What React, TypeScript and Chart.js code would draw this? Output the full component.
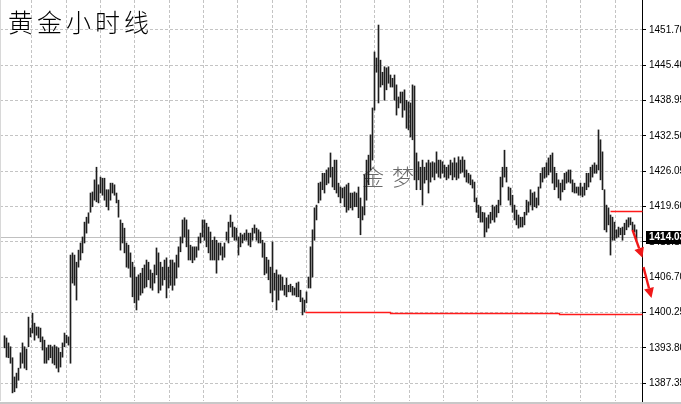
import React, { useEffect, useRef } from "react";
import { Chart, registerables } from "chart.js";

Chart.register(...registerables);

// ---------- text ----------
const chartTitle = ["黄", "金", "小", "时", "线"];
const watermarkChars = ["金", "梦"];
const currentPriceLabel = "1414.03";

// ---------- price axis ----------
const yTickLabels = ["1387.35", "1393.80", "1400.25", "1406.70", "1413.15", "1419.60", "1426.05", "1432.50", "1438.95", "1445.40", "1451.70"];
const yTickStart = 1387.35;
const yTickStep = 6.435;
const yMin = 1384.12;
const yMax = 1457.16;

// ---------- hourly bars (high / low) ----------
const barHighs = [
  1396.0, 1395.6, 1394.7, 1394.0, 1392.0, 1388.5, 1389.2, 1390.1, 1392.9, 1394.7,
  1394.0, 1393.6, 1399.4, 1397.4, 1400.1, 1398.3, 1397.6, 1397.6, 1397.4, 1395.8,
  1395.2, 1393.8, 1394.3, 1394.3, 1394.0, 1394.3, 1394.0, 1393.8, 1393.0, 1394.7,
  1396.5, 1396.1, 1395.8, 1410.7,
  1411.1, 1410.7, 1409.4, 1411.6, 1412.9, 1414.0, 1416.7, 1417.6, 1418.4, 1422.0,
  1422.2, 1424.4, 1426.7, 1423.5, 1424.9, 1424.7, 1424.7, 1422.6, 1422.6, 1423.8,
  1423.8, 1423.5, 1422.0, 1420.7, 1417.1, 1416.5, 1415.6, 1412.9, 1412.5, 1411.1,
  1409.4, 1408.5, 1406.7, 1407.1, 1407.4, 1408.3, 1408.9, 1409.8, 1409.4, 1408.0,
  1407.4, 1408.9, 1412.0, 1411.1, 1409.4, 1408.5, 1409.8, 1410.2, 1408.5, 1409.8,
  1409.8, 1409.3, 1410.7, 1412.2, 1414.0,
  1417.1, 1417.5, 1417.1, 1415.3, 1412.5, 1412.2, 1412.2, 1412.2, 1414.0, 1414.7,
  1417.1, 1417.1, 1416.5, 1415.8, 1414.9, 1413.4, 1414.0, 1413.4, 1412.9, 1412.9,
  1412.2, 1412.9, 1414.9, 1416.7, 1418.0,
  1416.7, 1415.8, 1415.6, 1414.0, 1414.7, 1414.4, 1414.7, 1415.3, 1414.7, 1414.7,
  1415.6, 1416.2, 1415.6, 1415.3, 1414.9, 1413.4, 1412.9, 1410.3, 1409.8, 1408.5,
  1413.1, 1407.4, 1408.0, 1407.1, 1407.1,
  1406.7, 1405.2, 1406.5, 1405.2, 1405.4, 1405.0, 1404.7, 1405.6, 1405.8, 1404.3,
  1402.9, 1402.5, 1404.0, 1406.7, 1412.2, 1415.3, 1419.3, 1419.8, 1423.8, 1424.0,
  1425.6, 1425.6, 1426.2, 1426.6, 1429.3,
  1426.7, 1428.0, 1428.0, 1423.8, 1423.1, 1422.9, 1423.1, 1423.5, 1423.8, 1422.0,
  1422.0, 1422.2, 1422.0, 1423.1, 1421.1, 1419.5, 1425.3, 1428.0, 1428.9, 1432.6,
  1437.5, 1447.7, 1446.6, 1452.6, 1446.2,
  1444.0, 1445.0, 1444.8, 1445.0, 1443.5, 1442.9, 1443.5, 1441.7, 1439.5, 1440.4,
  1440.4, 1440.8, 1438.9, 1438.6, 1438.4, 1441.7, 1441.5, 1429.3, 1427.7, 1426.7,
  1428.0, 1426.7, 1427.5, 1428.0, 1427.5,
  1427.7, 1427.5, 1429.5, 1428.0, 1428.0, 1427.7, 1427.1, 1426.7, 1427.1, 1428.0,
  1427.5, 1428.4, 1427.5, 1428.6, 1428.0, 1428.6, 1428.0, 1426.2, 1425.6, 1425.3,
  1424.4, 1424.0, 1421.1, 1419.8, 1419.5,
  1418.5, 1418.4, 1417.5, 1418.0, 1418.5, 1419.8, 1419.5, 1419.8, 1420.7, 1424.9,
  1426.7, 1429.8, 1426.7, 1423.1, 1422.9, 1421.6, 1419.8, 1418.9, 1418.0, 1417.6,
  1417.6, 1418.5, 1420.7, 1420.4, 1422.6,
  1422.0, 1422.2, 1421.1, 1423.1, 1425.6, 1426.6, 1426.7, 1427.5, 1428.4, 1428.9,
  1429.3, 1426.7, 1425.6, 1424.4, 1423.8, 1424.4, 1425.6, 1425.8, 1426.2, 1426.2,
  1424.4, 1423.8, 1423.1, 1423.1, 1423.8,
  1423.1, 1423.8, 1425.6, 1425.6, 1426.7, 1427.1, 1427.5, 1427.1, 1433.5, 1431.7,
  1429.5, 1422.6, 1419.8, 1419.3, 1418.0, 1417.6, 1416.7, 1415.3, 1415.8, 1415.6,
  1415.8, 1416.5, 1417.1, 1417.5, 1417.5, 1416.7, 1416.2, 1415.3,
];

const barLows = [
  1393.8, 1392.1, 1392.0, 1391.0, 1385.6, 1385.8, 1386.5, 1387.9, 1390.1, 1391.0,
  1390.1, 1389.8, 1394.0, 1395.8, 1396.5, 1395.2, 1396.1, 1395.6, 1394.9, 1393.4,
  1391.0, 1391.0, 1391.6, 1392.0, 1391.0, 1390.7, 1390.1, 1389.4, 1390.3, 1392.1,
  1394.0, 1394.7, 1394.3, 1391.0,
  1405.6, 1405.2, 1402.5, 1408.5, 1409.8, 1411.1, 1412.9, 1414.7, 1416.5, 1418.5,
  1419.5, 1420.7, 1420.4, 1420.2, 1422.0, 1421.6, 1420.7, 1419.5, 1418.9, 1420.7,
  1422.0, 1421.6, 1420.2, 1417.6, 1411.6, 1412.9, 1411.1, 1408.5, 1408.3, 1406.7,
  1403.1, 1402.0, 1400.7, 1402.5, 1403.4, 1403.8, 1404.7, 1404.9, 1406.2, 1404.7,
  1404.3, 1405.6, 1407.1, 1403.8, 1404.3, 1405.2, 1406.2, 1402.9, 1404.7, 1405.2,
  1404.3, 1405.2, 1406.5, 1408.5, 1411.3,
  1412.9, 1414.0, 1412.2, 1409.8, 1409.8, 1409.3, 1409.8, 1410.3, 1411.6, 1412.9,
  1414.0, 1413.4, 1412.2, 1411.1, 1409.8, 1409.8, 1409.8, 1407.4, 1409.8, 1410.7,
  1409.8, 1410.3, 1413.4, 1412.9, 1415.8,
  1414.0, 1413.4, 1413.4, 1410.7, 1412.2, 1412.9, 1413.4, 1413.4, 1412.5, 1412.2,
  1413.4, 1414.7, 1413.4, 1412.9, 1412.9, 1410.3, 1407.1, 1407.4, 1406.2, 1403.8,
  1402.2, 1404.3, 1400.7, 1402.5, 1404.3,
  1404.3, 1403.4, 1403.1, 1404.0, 1404.0, 1403.4, 1403.4, 1403.1, 1403.1, 1402.2,
  1399.8, 1400.3, 1402.0, 1404.7, 1404.7, 1406.7, 1413.4, 1417.1, 1420.2, 1420.7,
  1422.6, 1422.0, 1423.5, 1423.8, 1424.9,
  1423.1, 1422.6, 1422.0, 1421.3, 1420.2, 1421.1, 1419.5, 1418.5, 1418.9, 1419.3,
  1418.9, 1419.5, 1419.5, 1417.5, 1414.4, 1417.1, 1418.0, 1420.7, 1423.5, 1426.2,
  1428.0, 1437.1, 1444.0, 1438.4, 1441.3,
  1441.7, 1438.9, 1440.8, 1442.0, 1441.3, 1441.3, 1438.9, 1436.2, 1437.5, 1438.4,
  1435.8, 1437.1, 1433.8, 1433.5, 1432.2, 1431.7, 1424.4, 1422.6, 1424.4, 1422.6,
  1419.8, 1423.8, 1424.4, 1422.0, 1424.0,
  1424.9, 1424.4, 1425.6, 1424.9, 1424.7, 1425.6, 1424.9, 1424.4, 1424.7, 1425.3,
  1424.4, 1424.9, 1424.4, 1424.7, 1425.6, 1425.8, 1424.9, 1424.0, 1423.8, 1423.5,
  1422.9, 1420.4, 1418.5, 1417.5, 1416.7,
  1416.7, 1414.0, 1414.9, 1415.6, 1416.5, 1417.1, 1416.7, 1417.6, 1418.4, 1419.8,
  1423.1, 1424.9, 1424.0, 1420.7, 1419.8, 1418.5, 1417.1, 1416.2, 1415.6, 1415.8,
  1415.8, 1416.2, 1418.0, 1418.5, 1419.8,
  1418.9, 1419.5, 1419.3, 1419.8, 1422.9, 1424.0, 1424.7, 1424.9, 1425.3, 1425.8,
  1423.8, 1422.6, 1423.1, 1421.1, 1420.7, 1422.2, 1422.6, 1423.8, 1424.0, 1423.8,
  1422.2, 1422.0, 1422.0, 1421.6, 1421.6,
  1421.3, 1421.6, 1422.6, 1423.1, 1424.0, 1424.9, 1425.6, 1425.6, 1426.2, 1424.4,
  1422.6, 1415.3, 1414.9, 1416.2, 1410.7, 1413.4, 1413.4, 1413.8, 1414.0, 1414.4,
  1413.4, 1414.4, 1415.3, 1415.8, 1416.2, 1415.3, 1414.9, 1413.4,
];

// ---------- annotations (bar index, price) ----------
const supportLine = [
  { x: 150.5, y: 1400.3 }, { x: 193, y: 1400.3 },
  { x: 193, y: 1400.1 }, { x: 277.5, y: 1400.1 },
  { x: 277.5, y: 1399.98 }, { x: 319, y: 1399.98 },
];
const resistanceLine = [{ x: 303, y: 1418.8 }, { x: 319, y: 1418.8 }];
const arrowSegments = [
  [{ x: 314, y: 1415.3 }, { x: 319, y: 1410.2 }],
  [{ x: 319.5, y: 1408.5 }, { x: 323.5, y: 1402.9 }],
];
const currentPrice = 1413.94;
const xMin = -2.25;
const xMax = 318.75;
const xGridStart = 13.6;
const xGridStep = 17.165;
const xGridCount = 18;

function drawPolyline(ctx: any, scales: any, pts: { x: number; y: number }[]) {
  ctx.beginPath();
  pts.forEach((p, k) => {
    const px = scales.x.getPixelForValue(p.x);
    const py = Math.round(scales.y.getPixelForValue(p.y)) + 0.5;
    if (k === 0) ctx.moveTo(px, py);
    else ctx.lineTo(px, py);
  });
  ctx.stroke();
}

const decorPlugin = {
  id: "decor",
  beforeDraw(chart: any) {
    const { ctx, width, height } = chart;
    ctx.save();
    ctx.fillStyle = "#ffffff";
    ctx.fillRect(0, 0, width, height);
    ctx.restore();
  },
  beforeDatasetsDraw(chart: any) {
    const { ctx, chartArea, scales } = chart;
    ctx.save();
    const py = Math.round(scales.y.getPixelForValue(currentPrice)) + 0.5;
    ctx.strokeStyle = "#c0c0c0";
    ctx.lineWidth = 1;
    ctx.beginPath();
    ctx.moveTo(chartArea.left, py);
    ctx.lineTo(chartArea.right, py);
    ctx.stroke();
    ctx.fillStyle = "#6a6a6a";
    ctx.font = "300 22px 'Noto Sans CJK SC'";
    ctx.textBaseline = "middle";
    watermarkChars.forEach((c, k) => ctx.fillText(c, 362 + k * 30, 177));
    ctx.restore();
  },
  afterDatasetsDraw(chart: any) {
    const { ctx, scales } = chart;
    ctx.save();
    ctx.strokeStyle = "#ff1a1a";
    ctx.lineWidth = 1.3;
    drawPolyline(ctx, scales, supportLine);
    drawPolyline(ctx, scales, resistanceLine);
    ctx.restore();
  },
  afterDraw(chart: any) {
    const { ctx, chartArea, scales, width } = chart;
    ctx.save();
    ctx.fillStyle = "#000";
    ctx.font = "300 25px 'Noto Sans CJK SC'";
    ctx.textBaseline = "middle";
    chartTitle.forEach((c, k) => ctx.fillText(c, 8 + k * 29, 22));
    const py = Math.round(scales.y.getPixelForValue(currentPrice));
    ctx.fillStyle = "#000";
    ctx.fillRect(chartArea.right + 4, py - 6, width, 13);
    ctx.fillStyle = "#fff";
    ctx.font = "bold 10px 'Liberation Sans'";
    ctx.fillText(currentPriceLabel, chartArea.right + 7, py + 0.5);
    ctx.strokeStyle = "#f01818";
    ctx.fillStyle = "#f01818";
    ctx.lineWidth = 2.4;
    arrowSegments.forEach(([a, b]) => {
      const x1 = scales.x.getPixelForValue(a.x);
      const y1 = scales.y.getPixelForValue(a.y);
      const x2 = scales.x.getPixelForValue(b.x);
      const y2 = scales.y.getPixelForValue(b.y);
      const ang = Math.atan2(y2 - y1, x2 - x1);
      const hl = 10;
      const hw = 5;
      const bx = x2 - hl * Math.cos(ang);
      const by = y2 - hl * Math.sin(ang);
      ctx.beginPath();
      ctx.moveTo(x1, y1);
      ctx.lineTo(bx, by);
      ctx.stroke();
      ctx.beginPath();
      ctx.moveTo(x2, y2);
      ctx.lineTo(bx + hw * Math.sin(ang), by - hw * Math.cos(ang));
      ctx.lineTo(bx - hw * Math.sin(ang), by + hw * Math.cos(ang));
      ctx.closePath();
      ctx.fill();
    });
    ctx.fillStyle = "#d8d8d8";
    ctx.fillRect(0, 0, 1, chartArea.bottom);
    ctx.fillStyle = "#c8c8c8";
    ctx.fillRect(0, chartArea.bottom + 1, width, 3);
    ctx.restore();
  },
};

export default function App() {
  const canvasRef = useRef<HTMLCanvasElement | null>(null);

  useEffect(() => {
    document.body.style.margin = "0";
    const canvas = canvasRef.current;
    if (!canvas) return;
    const n = Math.min(barHighs.length, barLows.length);
    const bars = [];
    for (let i = 0; i < n; i++) bars.push({ x: i, y: [barLows[i], barHighs[i]] });

    const chart = new Chart(canvas, {
      type: "bar",
      data: {
        datasets: [
          {
            type: "bar",
            data: bars as any,
            backgroundColor: "#1e1e1e",
            barThickness: 1,
            borderWidth: 0,
          } as any,
        ],
      },
      options: {
        responsive: false,
        animation: false,
        events: [],
        layout: { padding: { left: 0, right: 0, top: 0, bottom: 3 } },
        plugins: { legend: { display: false }, tooltip: { enabled: false } },
        scales: {
          x: {
            type: "linear",
            min: xMin,
            max: xMax,
            offset: false,
            grid: { color: "#c4c4c4", drawTicks: false, offset: false },
            border: { display: false, dash: [3, 2] },
            ticks: { display: false },
            afterBuildTicks: (s: any) => {
              const t = [];
              for (let k = 0; k < xGridCount; k++) t.push({ value: xGridStart + k * xGridStep });
              s.ticks = t;
            },
            afterFit: (s: any) => {
              s.height = 0;
              s.paddingLeft = 0;
              s.paddingRight = 0;
            },
          },
          y: {
            type: "linear",
            position: "right",
            min: yMin,
            max: yMax,
            grid: { color: "#c4c4c4", tickColor: "#000", tickLength: 4, drawTicks: true },
            border: { display: true, color: "#000", width: 1, dash: [3, 2] },
            ticks: {
              color: "#000",
              padding: 3,
              autoSkip: false,
              font: { family: "'Liberation Sans'", size: 10 },
              callback: (_v: any, i: number) => yTickLabels[i],
            },
            afterBuildTicks: (s: any) => {
              s.ticks = yTickLabels.map((_l, k) => ({ value: yTickStart + k * yTickStep }));
            },
            afterFit: (s: any) => {
              s.width = 39;
              s.paddingTop = 0;
              s.paddingBottom = 0;
            },
          },
        },
      } as any,
      plugins: [decorPlugin],
    });
    return () => chart.destroy();
  }, []);

  return (
    <div style={{ position: "absolute", left: 0, top: 0, width: 681, height: 404 }}>
      <canvas ref={canvasRef} width={681} height={404} />
    </div>
  );
}
